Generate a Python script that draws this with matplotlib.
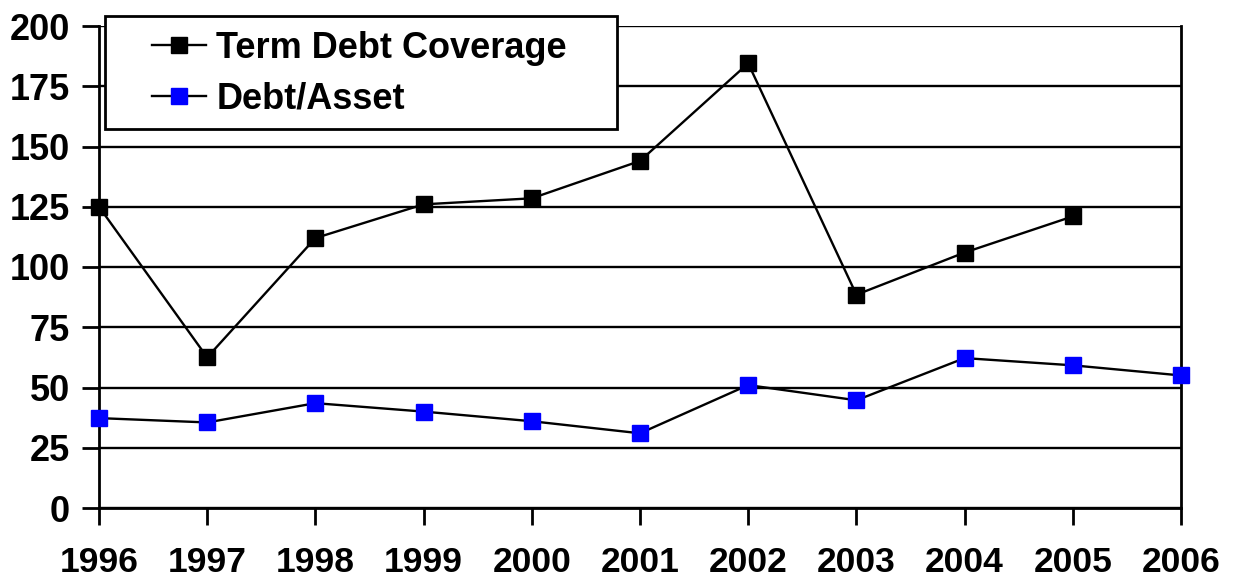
import matplotlib
matplotlib.use("Agg")
import matplotlib.pyplot as plt
from matplotlib.patches import Rectangle

plt.rcParams['font.family'] = ['Liberation Sans', 'DejaVu Sans']
plt.rcParams['font.weight'] = 'bold'

years = [1996, 1997, 1998, 1999, 2000, 2001, 2002, 2003, 2004, 2005, 2006]
term_debt_coverage = [125, 62.5, 112, 126, 128.5, 144, 184.5, 88.5, 106, 121, None]
debt_asset = [37.3, 35.5, 43.5, 40, 36, 31, 51, 44.7, 62.2, 59.2, 55]
y_ticks = [0, 25, 50, 75, 100, 125, 150, 175, 200]

W, H = 1241, 582
fig = plt.figure(figsize=(W / 100, H / 100), dpi=100)
ax = fig.add_axes([99 / W, 74 / H, 1082 / W, 482 / H])

tdc_x = [y for y, v in zip(years, term_debt_coverage) if v is not None]
tdc_y = [v for v in term_debt_coverage if v is not None]

ax.plot(tdc_x, tdc_y, color='black', lw=1.7, marker='s', ms=11.5,
        mfc='black', mec='black', label='Term Debt Coverage', zorder=3, clip_on=False)
ax.plot(years, debt_asset, color='black', lw=1.7, marker='s', ms=11.5,
        mfc='#0000ff', mec='#0000ff', label='Debt/Asset', zorder=3, clip_on=False)

ax.set_xlim(years[0], years[-1])
ax.set_ylim(0, 200)
ax.set_yticks(y_ticks)
ax.set_xticks(years)
ax.set_xticklabels([str(y) for y in years])
ax.yaxis.grid(True, color='black', lw=1.7)
ax.set_axisbelow(True)

for side in ['left', 'right', 'bottom']:
    ax.spines[side].set_linewidth(2)
    ax.spines[side].set_color('black')
ax.spines['top'].set_visible(False)

ax.tick_params(axis='both', direction='out', length=12, width=2, color='black')
ax.tick_params(axis='x', labelsize=25.5, pad=15.5)
ax.tick_params(axis='y', labelsize=26, pad=9)
for lbl in ax.get_xticklabels() + ax.get_yticklabels():
    lbl.set_fontweight('bold')

# legend frame drawn as a plain box, legend entries placed inside it
frame = Rectangle((105 / W, 1 - 129 / H), 512 / W, 113 / H, transform=fig.transFigure,
                  facecolor='white', edgecolor='black', lw=2, zorder=4)
fig.add_artist(frame)

handles, labels = ax.get_legend_handles_labels()
leg = fig.legend(handles, labels, loc='upper left', bbox_to_anchor=(152 / W, 1 - 31 / H),
                 bbox_transform=fig.transFigure, frameon=False,
                 prop={'size': 26, 'weight': 'bold'},
                 handlelength=1.5, handletextpad=0.28, borderpad=0, labelspacing=0.42,
                 borderaxespad=0)
leg.set_zorder(5)

fig.savefig('out.png', dpi=100)
